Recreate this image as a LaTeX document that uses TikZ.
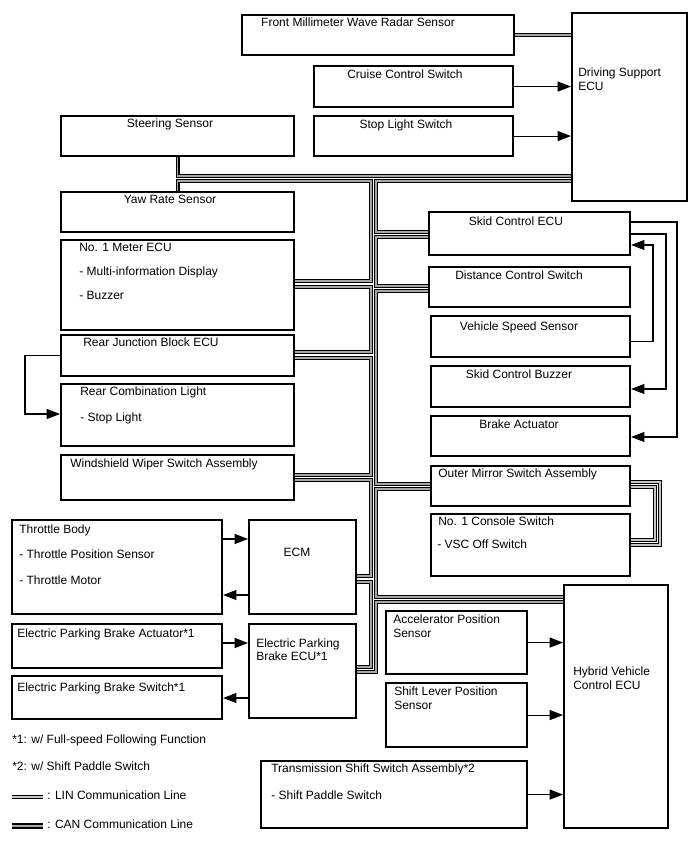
\documentclass[tikz,border=0pt]{standalone}
\usepackage{fontspec}
\setmainfont{Liberation Sans}
\usetikzlibrary{arrows.meta,calc,positioning}
\tikzset{
  blk/.style={draw=black, line width=1.6pt, inner sep=0pt, anchor=north west},
  lbl/.style={font=\fontsize{9}{11}\selectfont, inner sep=0pt, anchor=base west},
  ctr/.style={font=\fontsize{9}{11}\selectfont, inner sep=0pt, anchor=base},
  arr/.style={line width=0.8pt, -{Triangle[length=10pt,width=7.5pt]}},
  can/.style={draw=black, line width=0.95pt, double=gray!70, double distance=1.2pt},
  lin/.style={draw=black, line width=0.85pt, double=gray!45, double distance=1.3pt},
}

\begin{document}
\begin{tikzpicture}[x=0.75pt, y=-0.75pt]
\useasboundingbox (0,0) rectangle (688,852);

\node[blk, minimum width=204pt, minimum height=30pt] (radar) at (241,14) {};
\node[ctr] (radar-t) at (358,27) {Front Millimeter Wave Radar Sensor};
\node[blk, minimum width=86.25pt, minimum height=141pt] (dsecu) at (571,12) {};
\node[lbl] (dsecu-t1) at (578,77) {Driving Support};
\node[lbl] (dsecu-t2) at (578,91) {ECU};
\node[blk, minimum width=149.25pt, minimum height=30.75pt] (cruise) at (313,65) {};
\node[ctr] (cruise-t) at (405,79) {Cruise Control Switch};
\node[blk, minimum width=149.25pt, minimum height=30pt] (stoplt) at (313,115) {};
\node[ctr] (stoplt-t) at (406,129) {Stop Light Switch};

\node[blk, minimum width=174.75pt, minimum height=30pt] (steer) at (60,115) {};
\node[ctr] (steer-t) at (170,128) {Steering Sensor};
\node[blk, minimum width=174.75pt, minimum height=30pt] (yaw) at (60,191) {};
\node[ctr] (yaw-t) at (170,204) {Yaw Rate Sensor};
\node[blk, minimum width=174.75pt, minimum height=67.5pt] (meter) at (60,239) {};
\node[lbl] (meter-t1) at (79,251) {No. 1 Meter ECU};
\node[lbl] (meter-t2) at (79,275) {- Multi-information Display};
\node[lbl] (meter-t3) at (79,299) {- Buzzer};
\node[blk, minimum width=174.75pt, minimum height=30.75pt] (rjb) at (60,334) {};
\node[lbl] (rjb-t) at (83,346) {Rear Junction Block ECU};
\node[blk, minimum width=174.75pt, minimum height=46.5pt] (rcl) at (60,383) {};
\node[lbl] (rcl-t1) at (80,395) {Rear Combination Light};
\node[lbl] (rcl-t2) at (80,421) {- Stop Light};
\node[blk, minimum width=174.75pt, minimum height=33.75pt] (wiper) at (60,454) {};
\node[lbl] (wiper-t) at (70,467) {Windshield Wiper Switch Assembly};

\node[blk, minimum width=150.75pt, minimum height=32.25pt] (skid) at (428,211) {};
\node[ctr] (skid-t) at (516,225) {Skid Control ECU};
\node[blk, minimum width=150.75pt, minimum height=30pt] (dist) at (428,266) {};
\node[ctr] (dist-t) at (519,279) {Distance Control Switch};
\node[blk, minimum width=149.25pt, minimum height=30.75pt] (vss) at (430,315) {};
\node[ctr] (vss-t) at (519,330) {Vehicle Speed Sensor};
\node[blk, minimum width=149.25pt, minimum height=30.75pt] (buzzer) at (430,365) {};
\node[ctr] (buzzer-t) at (519,378) {Skid Control Buzzer};
\node[blk, minimum width=149.25pt, minimum height=30pt] (brake) at (430,415) {};
\node[ctr] (brake-t) at (519,428) {Brake Actuator};
\node[blk, minimum width=149.25pt, minimum height=30pt] (mirror) at (430,465) {};
\node[lbl] (mirror-t) at (438,477) {Outer Mirror Switch Assembly};
\node[blk, minimum width=149.25pt, minimum height=46.5pt] (console) at (430,513) {};
\node[lbl] (console-t1) at (438,525) {No. 1 Console Switch};
\node[lbl] (console-t2) at (437,548) {- VSC Off Switch};

\node[blk, minimum width=157.5pt, minimum height=70.5pt] (throttle) at (11,519) {};
\node[lbl] (throttle-t1) at (19,533) {Throttle Body};
\node[lbl] (throttle-t2) at (19,558) {- Throttle Position Sensor};
\node[lbl] (throttle-t3) at (19,584) {- Throttle Motor};
\node[blk, minimum width=80.25pt, minimum height=70.5pt] (ecm) at (248,519) {};
\node[ctr] (ecm-t) at (297,556) {ECM};
\node[blk, minimum width=157.5pt, minimum height=33pt] (epba) at (11,623) {};
\node[lbl] (epba-t) at (17,637) {Electric Parking Brake Actuator*1};
\node[blk, minimum width=80.25pt, minimum height=70.5pt] (epbecu) at (248,623) {};
\node[lbl] (epbecu-t1) at (256,647) {Electric Parking};
\node[lbl] (epbecu-t2) at (256,660) {Brake ECU*1};
\node[blk, minimum width=157.5pt, minimum height=32.25pt] (epbs) at (11,675) {};
\node[lbl] (epbs-t) at (17,691) {Electric Parking Brake Switch*1};

\node[blk, minimum width=78pt, minimum height=182.25pt] (hvecu) at (563,584) {};
\node[lbl] (hvecu-t1) at (573,675) {Hybrid Vehicle};
\node[lbl] (hvecu-t2) at (573,689) {Control ECU};
\node[blk, minimum width=105.75pt, minimum height=47.25pt] (aps) at (385,610) {};
\node[lbl] (aps-t1) at (393,623) {Accelerator Position};
\node[lbl] (aps-t2) at (393,637) {Sensor};
\node[blk, minimum width=105.75pt, minimum height=48pt] (slps) at (385,682) {};
\node[lbl] (slps-t1) at (394,695) {Shift Lever Position};
\node[lbl] (slps-t2) at (394,709) {Sensor};
\node[blk, minimum width=199.5pt, minimum height=50.25pt] (tss) at (260,760) {};
\node[lbl] (tss-t1) at (271,772) {Transmission Shift Switch Assembly*2};
\node[lbl] (tss-t2) at (271,799) {- Shift Paddle Switch};

\draw[can] (radar.east) -- (radar.east -| dsecu.west);
\draw[can] (steer.south) |- (dsecu.west |- 0,176);
\draw[can] (yaw.north) |- (371,181) |- (meter.east |- 0,281);
\draw[can] (meter.east |- 0,287) -| (371,352) -- (rjb.east |- 0,352);
\draw[can] (rjb.east |- 0,358) -| (371,475) -- (wiper.east |- 0,475);
\draw[can] (wiper.east |- 0,480) -| (371,576) -- (ecm.east |- 0,576);
\draw[can] (ecm.east |- 0,582) -| (371,667) -- (epbecu.east |- 0,667);
\draw[can] (dsecu.west |- 0,181) -| (376,232) -- (skid.west |- 0,232);
\draw[can] (skid.west |- 0,237) -| (376,286) -- (dist.west |- 0,286);
\draw[can] (dist.west |- 0,291) -| (376,484) -- (mirror.west |- 0,484);
\draw[can] (mirror.west |- 0,489) -| (376,597) -- (hvecu.west |- 0,597);
\draw[can] (hvecu.west |- 0,602) -| (376,672) -- (epbecu.east |- 0,672);
\draw[lin] (mirror.east |- 0,482) -| (660,545) -- (console.east |- 0,545);
\draw[lin] (mirror.east |- 0,487) -| (655,540) -- (console.east |- 0,540);

\draw[arr] (cruise.east) -- (cruise.east -| dsecu.west);
\draw[arr] (stoplt.east) -- (stoplt.east -| dsecu.west);
\draw[arr] (rjb.west) -| (25,414) -- (rcl.west |- 0,414);
\draw[arr] ($(skid.north east)+(0,11)$) -| (677,437) -- (brake.east |- 0,437);
\draw[arr] ($(skid.north east)+(0,23)$) -| (666,389) -- (buzzer.east |- 0,389);
\draw[arr] ($(vss.south east)+(0,-17)$) -| (653,245) -- (skid.east |- 0,245);
\draw[arr] ($(throttle.north east)+(0,20)$) -- ($(ecm.north west)+(0,20)$);
\draw[arr] ($(ecm.north west)+(0,76)$) -- ($(throttle.north east)+(0,76)$);
\draw[arr] ($(epba.north east)+(0,20)$) -- ($(epbecu.north west)+(0,20)$);
\draw[arr] ($(epbecu.north west)+(0,75)$) -- ($(epbs.north east)+(0,23)$);
\draw[arr] (aps.east) -- (aps.east -| hvecu.west);
\draw[arr] (slps.east) -- (slps.east -| hvecu.west);
\draw[arr] (tss.east) -- (tss.east -| hvecu.west);

\node[lbl] (note1) at (12,743) {*1: w/ Full-speed Following Function};
\node[lbl] (note2) at (12,770) {*2: w/ Shift Paddle Switch};
\coordinate (linA) at (12,797);
\coordinate (linB) at (43,797);
\coordinate (canA) at (12,826);
\coordinate (canB) at (43,826);
\draw[lin, line width=1.1pt] (linA) -- (linB);
\draw[can, line width=1.3pt] (canA) -- (canB);
\node[lbl] (lin-t) at (47,799) {: LIN Communication Line};
\node[lbl] (can-t) at (47,828) {: CAN Communication Line};
\end{tikzpicture}
\end{document}
